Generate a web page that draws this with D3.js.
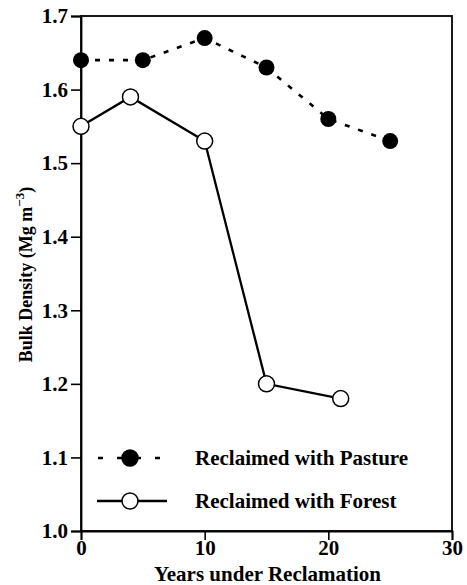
<!DOCTYPE html>
<html><head><meta charset="utf-8">
<script src="https://cdn.jsdelivr.net/npm/d3@7"></script>
<style>body{margin:0;background:#fff}</style>
</head><body>
<svg id="c" width="467" height="585"></svg>
<script>
const pastureYears = [0, 5, 10, 15, 20, 25];
const pastureDensity = [1.64, 1.64, 1.67, 1.63, 1.56, 1.53];
const forestYears = [0, 4, 10, 15, 21];
const forestDensity = [1.55, 1.59, 1.53, 1.20, 1.18];
const xTicks = [0, 10, 20, 30];
const yTicks = [1.0, 1.1, 1.2, 1.3, 1.4, 1.5, 1.6, 1.7];

const svg = d3.select("#c");
const L = 81, R = 452, T = 16, B = 531;
const x = d3.scaleLinear().domain([0, 30]).range([L, R]);
const y = d3.scaleLinear().domain([1.0, 1.7]).range([B, T]);
const font = "'Liberation Serif', 'Times New Roman', serif";

// frame
svg.append("rect").attr("x", L).attr("y", T).attr("width", R - L).attr("height", B - T)
  .attr("fill", "none").attr("stroke", "#000").attr("stroke-width", 1.8);

// y axis
const yAxis = svg.append("g").attr("transform", `translate(${L},0)`);
yAxis.call(d3.axisLeft(y).tickValues(d3.range(0, 36).map(i => +(1 + i * 0.02).toFixed(2))).tickSize(5).tickFormat(""));
yAxis.call(d3.axisLeft(y).tickValues(yTicks).tickSize(10).tickFormat(d3.format(".1f")));
yAxis.selectAll(".domain").attr("stroke-width", 1.8);
yAxis.selectAll("line").attr("stroke-width", 1.6);
yAxis.selectAll("text").attr("font-family", font).attr("font-weight", "bold").attr("font-size", 21).attr("fill", "#000");

// x axis
const xAxis = svg.append("g").attr("transform", `translate(0,${B})`);
xAxis.call(d3.axisBottom(x).tickValues(d3.range(0, 31, 2)).tickSize(5).tickFormat(""));
xAxis.call(d3.axisBottom(x).tickValues(xTicks).tickSize(9).tickFormat(d3.format("d")));
xAxis.selectAll(".domain").attr("stroke-width", 1.8);
xAxis.selectAll("line").attr("stroke-width", 1.6);
xAxis.selectAll("text").attr("font-family", font).attr("font-weight", "bold").attr("font-size", 21).attr("y", 9).attr("fill", "#000");

// titles
svg.append("text").attr("x", (L + R) / 2 + 1).attr("y", 581).attr("text-anchor", "middle")
  .attr("font-family", font).attr("font-weight", "bold").attr("font-size", 21).text("Years under Reclamation");
const yt = svg.append("text").attr("transform", `translate(32,${(T + B) / 2 + 1}) rotate(-90)`).attr("text-anchor", "middle")
  .attr("font-family", font).attr("font-weight", "bold").attr("font-size", 18);
yt.append("tspan").text("Bulk Density (Mg m");
yt.append("tspan").attr("dy", -8).attr("font-size", 13).text("\u22123");
yt.append("tspan").attr("dy", 8).text(")");

const line = d3.line().x(d => x(d[0])).y(d => y(d[1]));
const past = pastureYears.map((v, i) => [v, pastureDensity[i]]);
const forest = forestYears.map((v, i) => [v, forestDensity[i]]);

svg.append("path").datum(past).attr("d", line).attr("fill", "none").attr("stroke", "#000")
  .attr("stroke-width", 2.6).attr("stroke-dasharray", "5,9");
svg.append("path").datum(forest).attr("d", line).attr("fill", "none").attr("stroke", "#000").attr("stroke-width", 2.3);

svg.selectAll(".pp").data(past).enter().append("circle").attr("cx", d => x(d[0])).attr("cy", d => y(d[1]))
  .attr("r", 8).attr("fill", "#000");
svg.selectAll(".fp").data(forest).enter().append("circle").attr("cx", d => x(d[0])).attr("cy", d => y(d[1]))
  .attr("r", 8).attr("fill", "#fff").attr("stroke", "#000").attr("stroke-width", 1.5);

// legend
const lg = [{ y: 458, dash: "5,14", w: 2.6, fill: "#000", label: "Reclaimed with Pasture", x1: 98, x2: 163 },
            { y: 501, dash: null, w: 2.5, fill: "#fff", label: "Reclaimed with Forest", x1: 97, x2: 167 }];
lg.forEach(l => {
  svg.append("line").attr("x1", l.x1).attr("x2", l.x2).attr("y1", l.y).attr("y2", l.y)
    .attr("stroke", "#000").attr("stroke-width", l.w).attr("stroke-dasharray", l.dash);
  svg.append("circle").attr("cx", 130).attr("cy", l.y).attr("r", 8).attr("fill", l.fill).attr("stroke", "#000").attr("stroke-width", 1.5);
  svg.append("text").attr("x", 195).attr("y", l.y + 7).attr("font-family", font).attr("font-weight", "bold")
    .attr("font-size", 21).text(l.label);
});
</script>
</body></html>
